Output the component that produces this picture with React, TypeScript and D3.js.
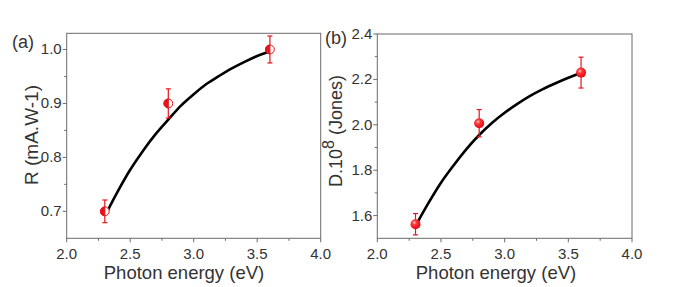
import React from "react";
import * as d3 from "d3";

const photonEnergy = [2.3, 2.8, 3.6];
const responsivity = [0.70, 0.90, 1.00];
const responsivityErr = [0.021, 0.027, 0.025];
const detectivity = [1.562, 2.007, 2.23];
const detectivityErr = [0.047, 0.06, 0.068];

const fitX = [2.32, 2.4, 2.5, 2.6, 2.7, 2.8, 2.9, 3.0, 3.1, 3.2, 3.3, 3.4, 3.5, 3.58];
const fitR = [0.700, 0.736, 0.777, 0.812, 0.843, 0.870, 0.896, 0.917, 0.936, 0.951, 0.965, 0.977, 0.988, 0.995];
const fitD = [1.575, 1.654, 1.745, 1.822, 1.893, 1.955, 2.008, 2.053, 2.092, 2.127, 2.157, 2.183, 2.207, 2.225];

const xTicks = [2.0, 2.5, 3.0, 3.5, 4.0];
const xMinor = [2.25, 2.75, 3.25, 3.75];
const rTicks = [0.7, 0.8, 0.9, 1.0];
const rMinor = [0.75, 0.85, 0.95];
const dTicks = [1.6, 1.8, 2.0, 2.2, 2.4];
const dMinor = [1.7, 1.9, 2.1, 2.3];

const FONT = "'Liberation Sans', Arial, sans-serif";
const AXIS = "#6b6b6b";
const TXT = "#333";
const RED = "#e8141b";

type PanelProps = {
  x0: number; x1: number; y0: number; y1: number;
  yDomain: [number, number];
  yTicks: number[]; yMinor: number[]; yFmt: (v: number) => string;
  values: number[]; errs: number[]; fit: number[];
  kind: "half" | "sphere";
};

function Panel(p: PanelProps) {
  const x = d3.scaleLinear().domain([2, 4]).range([p.x0, p.x1]);
  const y = d3.scaleLinear().domain(p.yDomain).range([p.y1, p.y0]);
  const line = d3.line<number>().x((_, i) => x(fitX[i])).y((v) => y(v)).curve(d3.curveCatmullRom.alpha(0.5));
  const r = p.kind === "half" ? 4.4 : 5;
  return (
    <g>
      <rect x={p.x0} y={p.y0} width={p.x1 - p.x0} height={p.y1 - p.y0} fill="none" stroke={AXIS} strokeWidth={1} />
      {xTicks.map((t) => (
        <g key={"xt" + t}>
          <line x1={x(t)} x2={x(t)} y1={p.y1} y2={p.y1 + 4} stroke={AXIS} />
          <text x={x(t)} y={258.5} textAnchor="middle" fontSize={15} fill={TXT} fontFamily={FONT}>{t.toFixed(1)}</text>
        </g>
      ))}
      {xMinor.map((t) => (
        <line key={"xm" + t} x1={x(t)} x2={x(t)} y1={p.y1} y2={p.y1 + 2.5} stroke={AXIS} />
      ))}
      {p.yTicks.map((t) => (
        <g key={"yt" + t}>
          <line x1={p.x0 - 4} x2={p.x0} y1={y(t)} y2={y(t)} stroke={AXIS} />
          <text x={p.x0 - 5} y={y(t) + 5} textAnchor="end" fontSize={15} fill={TXT} fontFamily={FONT}>{p.yFmt(t)}</text>
        </g>
      ))}
      {p.yMinor.map((t) => (
        <line key={"ym" + t} x1={p.x0 - 2.5} x2={p.x0} y1={y(t)} y2={y(t)} stroke={AXIS} />
      ))}
      <path d={line(p.fit) || ""} fill="none" stroke="#000" strokeWidth={2.6} />
      {photonEnergy.map((e, i) => {
        const cx = x(e);
        const cy = y(p.values[i]);
        const top = y(p.values[i] + p.errs[i]);
        const bot = y(p.values[i] - p.errs[i]);
        return (
          <g key={"pt" + i}>
            <line x1={cx} x2={cx} y1={top} y2={bot} stroke={RED} strokeWidth={1.2} />
            <line x1={cx - 2.5} x2={cx + 2.5} y1={top} y2={top} stroke={RED} strokeWidth={1.2} />
            <line x1={cx - 2.5} x2={cx + 2.5} y1={bot} y2={bot} stroke={RED} strokeWidth={1.2} />
            {p.kind === "half" ? (
              <g>
                <circle cx={cx} cy={cy} r={r} fill="#fff" stroke={RED} strokeWidth={1} />
                <path d={`M${cx},${cy - r} A${r},${r} 0 0 0 ${cx},${cy + r} Z`} fill={RED} stroke={RED} strokeWidth={1} />
              </g>
            ) : (
              <circle cx={cx} cy={cy} r={r} fill="url(#sphere)" />
            )}
          </g>
        );
      })}
    </g>
  );
}

export default function App() {
  return (
    <svg width={685} height={287} style={{ position: "absolute", left: 0, top: 0, background: "#fff" }}>
      <defs>
        <radialGradient id="sphere" cx="0.38" cy="0.35" r="0.7">
          <stop offset="0" stopColor="#ffd0d0" />
          <stop offset="0.3" stopColor="#ff3a3a" />
          <stop offset="1" stopColor="#e00010" />
        </radialGradient>
      </defs>
      <rect width={685} height={287} fill="#fff" />
      <Panel x0={66.7} x1={320.7} y0={33.3} y1={238.3} yDomain={[0.65, 1.03]}
        yTicks={rTicks} yMinor={rMinor} yFmt={(v) => v.toFixed(1)}
        values={responsivity} errs={responsivityErr} fit={fitR} kind="half" />
      <Panel x0={377.3} x1={632} y0={34} y1={238.3} yDomain={[1.5, 2.4]}
        yTicks={dTicks} yMinor={dMinor} yFmt={(v) => v.toFixed(1)}
        values={detectivity} errs={detectivityErr} fit={fitD} kind="sphere" />
      <text x={12} y={48} fontSize={18} fill={TXT} fontFamily={FONT}>(a)</text>
      <text x={325} y={44} fontSize={18} fill={TXT} fontFamily={FONT}>(b)</text>
      <text x={184} y={278.5} textAnchor="middle" fontSize={18.5} fill={TXT} fontFamily={FONT}>Photon energy (eV)</text>
      <text x={496} y={278.5} textAnchor="middle" fontSize={18.5} fill={TXT} fontFamily={FONT}>Photon energy (eV)</text>
      <text transform="translate(38,135) rotate(-90)" textAnchor="middle" fontSize={19} fill={TXT} fontFamily={FONT}>R (mA.W-1)</text>
      <text transform="translate(342,131) rotate(-90)" textAnchor="middle" fontSize={18} fill={TXT} fontFamily={FONT}>
        D.10<tspan fontSize={16} dy={-8}>8</tspan><tspan dy={8}> (Jones)</tspan>
      </text>
    </svg>
  );
}
